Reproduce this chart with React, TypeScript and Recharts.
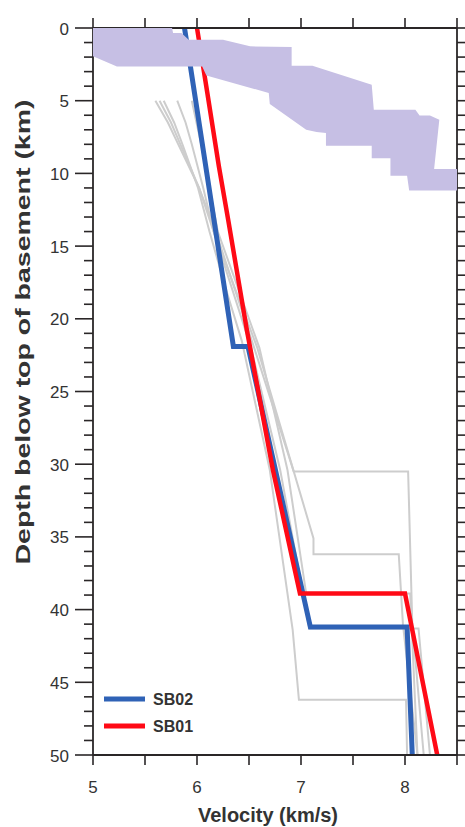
import React from "react";
import { ComposedChart, Line, Scatter, XAxis, YAxis, Legend } from "recharts";

const FONT = '"Liberation Sans", Arial, Helvetica, sans-serif';
const AXIS = "#2a2627";
const TEXT = "#333333";
const BLUE = "#2f62b6";
const RED = "#ff0a16";
const GRAY = "#cdcdcd";
const PURPLE = "#c6bfe4";

// ─── Axis ticks ──────────────────────────────────────────────────
const velocityTicks = [5, 5.5, 6, 6.5, 7, 7.5, 8, 8.5];
const velocityLabels = [5, 6, 7, 8];
const depthTicks = [
  0, 1, 2, 3, 4, 5, 6, 7, 8, 9, 10, 11, 12, 13, 14, 15, 16, 17, 18, 19, 20, 21, 22, 23, 24, 25,
  26, 27, 28, 29, 30, 31, 32, 33, 34, 35, 36, 37, 38, 39, 40, 41, 42, 43, 44, 45, 46, 47, 48, 49, 50,
];
const depthLabels = [0, 5, 10, 15, 20, 25, 30, 35, 40, 45, 50];

// ─── Profiles (v = km/s, d = km below basement) ──────────────────
const sb01 = [
  { v: 6.0, d: 0 }, { v: 6.1, d: 4.5 }, { v: 6.21, d: 9.5 }, { v: 6.3, d: 13.2 },
  { v: 6.48, d: 20.8 }, { v: 6.73, d: 30.4 }, { v: 6.99, d: 38.9 },
  { v: 8.0, d: 38.9 }, { v: 8.31, d: 50 },
];

const sb02 = [
  { v: 5.88, d: 0 }, { v: 6.35, d: 21.9 }, { v: 6.49, d: 21.9 },
  { v: 7.09, d: 41.2 }, { v: 8.02, d: 41.2 }, { v: 8.07, d: 50 },
];

const gray1 = [
  { v: 5.6, d: 5 }, { v: 5.72, d: 6.5 }, { v: 5.82, d: 8 }, { v: 6.02, d: 11 }, { v: 6.18, d: 14 },
  { v: 6.55, d: 22 }, { v: 6.93, d: 30.5 }, { v: 8.03, d: 30.5 }, { v: 8.07, d: 41 }, { v: 8.18, d: 50 },
];
const gray2 = [
  { v: 5.64, d: 5 }, { v: 5.75, d: 6.5 }, { v: 5.84, d: 8 }, { v: 6.02, d: 11 }, { v: 6.16, d: 14 },
  { v: 6.58, d: 22 }, { v: 7.12, d: 35.1 }, { v: 7.12, d: 36.2 }, { v: 7.94, d: 36.2 },
  { v: 7.98, d: 41 }, { v: 8.12, d: 50 },
];
const gray3 = [
  { v: 5.68, d: 5 }, { v: 5.78, d: 6.5 }, { v: 5.86, d: 8 }, { v: 6.01, d: 11 }, { v: 6.12, d: 14 },
  { v: 6.28, d: 18 }, { v: 6.43, d: 21.5 }, { v: 6.7, d: 30.4 }, { v: 6.92, d: 41.4 },
  { v: 6.98, d: 46.2 }, { v: 8.01, d: 46.2 }, { v: 8.02, d: 50 },
];
const gray4 = [
  { v: 5.81, d: 5 }, { v: 5.89, d: 6.5 }, { v: 5.95, d: 8 }, { v: 6.06, d: 11 }, { v: 6.16, d: 14 },
  { v: 6.52, d: 22 }, { v: 6.8, d: 30.4 }, { v: 7.08, d: 41.3 }, { v: 8.13, d: 41.3 }, { v: 8.24, d: 50 },
];
const gray5 = [
  { v: 5.95, d: 5 }, { v: 6.04, d: 8 }, { v: 6.12, d: 11 }, { v: 6.2, d: 14 },
  { v: 6.6, d: 22 }, { v: 6.87, d: 30.4 }, { v: 7.05, d: 38.9 }, { v: 8.05, d: 38.9 }, { v: 8.12, d: 50 },
];
const grayProfiles = [gray1, gray2, gray3, gray4, gray5];

// outline of the shaded upper-basement range, walked clockwise
const basementRange = [
  { v: 5.0, d: 0 }, { v: 5.76, d: 0 }, { v: 5.77, d: 0.34 }, { v: 5.85, d: 0.34 },
  { v: 5.92, d: 0.8 }, { v: 6.25, d: 0.8 }, { v: 6.51, d: 1.26 }, { v: 6.91, d: 1.31 },
  { v: 6.91, d: 2.6 }, { v: 7.11, d: 2.6 }, { v: 7.68, d: 3.9 }, { v: 7.7, d: 5.63 },
  { v: 8.1, d: 5.63 }, { v: 8.14, d: 6.02 }, { v: 8.24, d: 6.02 }, { v: 8.33, d: 6.31 },
  { v: 8.28, d: 9.69 }, { v: 8.5, d: 9.69 }, { v: 8.5, d: 11.18 }, { v: 8.04, d: 11.18 },
  { v: 8.02, d: 10.17 }, { v: 7.86, d: 10.17 }, { v: 7.86, d: 8.95 }, { v: 7.68, d: 8.95 },
  { v: 7.68, d: 8.1 }, { v: 7.24, d: 8.1 }, { v: 7.24, d: 7.23 }, { v: 7.15, d: 7.16 },
  { v: 7.05, d: 7.0 }, { v: 6.7, d: 5.23 }, { v: 6.69, d: 4.47 }, { v: 6.09, d: 3.26 },
  { v: 6.05, d: 2.64 }, { v: 5.23, d: 2.64 }, { v: 5.0, d: 1.95 },
];

// ─── Ticks / labels ──────────────────────────────────────────────
const DepthTick = ({ x, y, payload }: any) => {
  const major = depthLabels.includes(payload.value);
  return (
    <g>
      <line x1={x - (major ? 18 : 9)} x2={x} y1={y} y2={y} stroke={AXIS} strokeWidth={1.6} />
      {major && (
        <text x={x - 24} y={y + 6.5} textAnchor="end" fontSize={17} fill={TEXT} fontFamily={FONT}>
          {payload.value}
        </text>
      )}
    </g>
  );
};

const VelocityTick = ({ x, y, payload }: any) =>
  velocityLabels.includes(payload.value) ? (
    <text x={x} y={y + 28} textAnchor="middle" fontSize={17} fill={TEXT} fontFamily={FONT}>
      {payload.value}
    </text>
  ) : (
    <g />
  );

const NoTick = () => <g />;

const DepthTitle = ({ viewBox }: any) => (
  <text
    transform={`translate(${viewBox.x + 30}, ${viewBox.y + 304}) rotate(-90)`}
    textAnchor="middle"
    fontSize={20}
    fontWeight={700}
    fill={TEXT}
    fontFamily={FONT}
    textLength={465}
    lengthAdjust="spacingAndGlyphs"
  >
    Depth below top of basement (km)
  </text>
);

const VelocityTitle = ({ viewBox }: any) => (
  <text
    x={viewBox.x + viewBox.width / 2 - 7}
    y={viewBox.y + 67}
    textAnchor="middle"
    fontSize={20}
    fontWeight={700}
    fill={TEXT}
    fontFamily={FONT}
  >
    Velocity (km/s)
  </text>
);

const RangeFill = (props: any) => (
  <polygon
    points={props.points.map((p: any) => `${p.x},${p.y}`).join(" ")}
    fill={PURPLE}
    stroke="none"
  />
);

const ProfileLegend = () => (
  <svg width={130} height={54} style={{ display: "block" }}>
    <line x1={4} x2={45} y1={14} y2={14} stroke={BLUE} strokeWidth={5} />
    <text x={53} y={19.5} fontSize={16} fontWeight={700} fill={TEXT} fontFamily={FONT}>SB02</text>
    <line x1={4} x2={45} y1={41} y2={41} stroke={RED} strokeWidth={5} />
    <text x={53} y={46.5} fontSize={16} fontWeight={700} fill={TEXT} fontFamily={FONT}>SB01</text>
  </svg>
);

export default function App() {
  return (
    <div style={{ position: "absolute", left: 0, top: 0, background: "#fff" }}>
      <ComposedChart width={465} height={827} margin={{ top: 0, right: 0, bottom: 0, left: 0 }}>
        <XAxis
          xAxisId={0}
          type="number"
          dataKey="v"
          domain={[5, 8.5]}
          ticks={velocityTicks}
          allowDataOverflow
          height={72}
          tickSize={10}
          tickMargin={0}
          axisLine={{ stroke: AXIS, strokeWidth: 1.8 }}
          tickLine={{ stroke: AXIS, strokeWidth: 1.6 }}
          tick={<VelocityTick />}
          interval={0}
          label={{ content: <VelocityTitle /> } as any}
        />
        <XAxis
          xAxisId="top"
          orientation="top"
          type="number"
          dataKey="v"
          domain={[5, 8.5]}
          ticks={velocityTicks}
          allowDataOverflow
          height={28}
          tickSize={10}
          axisLine={{ stroke: AXIS, strokeWidth: 1.8 }}
          tickLine={{ stroke: AXIS, strokeWidth: 1.6 }}
          tick={<NoTick />}
          interval={0}
        />
        <YAxis
          yAxisId={0}
          type="number"
          dataKey="d"
          domain={[0, 50]}
          reversed
          allowDataOverflow
          ticks={depthTicks}
          width={93}
          tickSize={0}
          tickMargin={0}
          tickLine={false}
          axisLine={{ stroke: AXIS, strokeWidth: 1.8 }}
          tick={<DepthTick />}
          interval={0}
          label={{ content: <DepthTitle /> } as any}
        />
        <YAxis
          yAxisId="right"
          orientation="right"
          type="number"
          dataKey="d"
          domain={[0, 50]}
          reversed
          allowDataOverflow
          ticks={depthTicks}
          width={8}
          tickSize={8}
          axisLine={{ stroke: AXIS, strokeWidth: 1.8 }}
          tickLine={{ stroke: AXIS, strokeWidth: 1.6 }}
          tick={<NoTick />}
          interval={0}
        />

        <Scatter
          data={basementRange}
          fill={PURPLE}
          line={RangeFill}
          shape={() => <g />}
          isAnimationActive={false}
        />

        {grayProfiles.map((g, i) => (
          <Line
            key={i}
            data={g}
            dataKey="d"
            type="linear"
            stroke={GRAY}
            strokeWidth={2}
            dot={false}
            activeDot={false}
            isAnimationActive={false}
          />
        ))}
        <Line data={sb02} dataKey="d" name="SB02" type="linear" stroke={BLUE} strokeWidth={5} dot={false} isAnimationActive={false} />
        <Line data={sb01} dataKey="d" name="SB01" type="linear" stroke={RED} strokeWidth={4.5} dot={false} isAnimationActive={false} />

        <Legend
          layout="horizontal"
          verticalAlign="middle"
          align="center"
          content={<ProfileLegend />}
          wrapperStyle={{ left: 100, top: 685, width: 130, height: 54 }}
        />
      </ComposedChart>
    </div>
  );
}
